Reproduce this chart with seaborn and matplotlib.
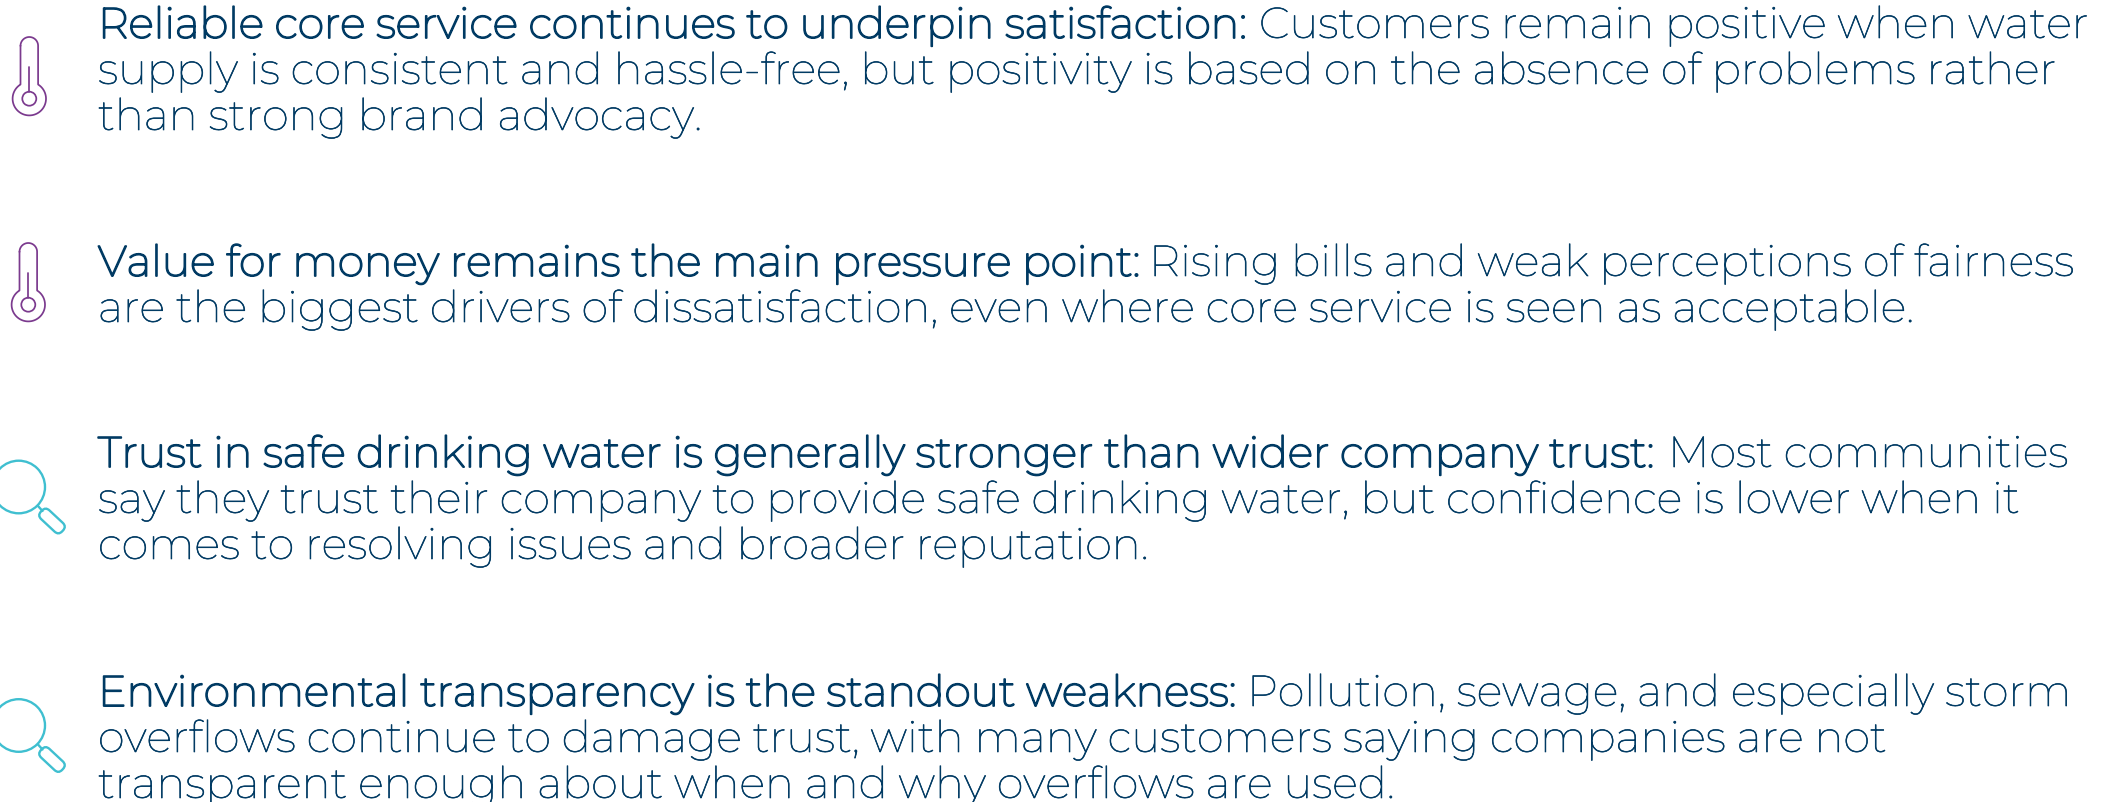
import numpy as np
import matplotlib
matplotlib.use('Agg')
import matplotlib.pyplot as plt
from matplotlib import patheffects as pe
from matplotlib.patches import Circle, FancyBboxPatch
from matplotlib.transforms import Affine2D
import seaborn as sns

# --- content -------------------------------------------------------------
block_leads = [
    "Reliable core service continues to underpin satisfaction:",
    "Value for money remains the main pressure point:",
    "Trust in safe drinking water is generally stronger than wider company trust:",
    "Environmental transparency is the standout weakness:",
]
block_first_lines = [
    "Customers remain positive when water",
    "Rising bills and weak perceptions of fairness",
    "Most communities",
    "Pollution, sewage, and especially storm",
]
block_more_lines = [
    ["supply is consistent and hassle-free, but positivity is based on the absence of problems rather",
     "than strong brand advocacy."],
    ["are the biggest drivers of dissatisfaction, even where core service is seen as acceptable."],
    ["say they trust their company to provide safe drinking water, but confidence is lower when it",
     "comes to resolving issues and broader reputation."],
    ["overflows continue to damage trust, with many customers saying companies are not",
     "transparent enough about when and why overflows are used."],
]
block_icons = ["thermometer", "thermometer", "magnifier", "magnifier"]

# --- layout (pixels of the 2108x802 canvas) -------------------------------
W, H = 2108, 802
LEFT = 98
first_baselines = [38, 276, 467, 706]
line_pitch = 46
body_starts = [1259, 1149, 1668, 1247]
icon_dx = [0, -1, 0, 0]
icon_dy = [0, 206, 0, 238.5]
NAVY = '#003a63'
PURPLE = '#7b3a8e'
TEAL = '#3fbfd0'
FONT = 'Montserrat'
LEAD_SIZE = 30.75
BODY_SIZE = 31.24

sns.set_theme(style='white')
fig = plt.figure(figsize=(W / 100, H / 100), dpi=100, facecolor='white')
ax = fig.add_axes([0, 0, 1, 1])
ax.set_xlim(0, W)
ax.set_ylim(H, 0)
ax.axis('off')

lead_fx = [pe.Stroke(linewidth=1.3, foreground=NAVY), pe.Normal()]
body_fx = [pe.Stroke(linewidth=0.45, foreground=NAVY), pe.Normal()]


def put(x, y, s, size, fx):
    ax.text(x, y, s, family=FONT, fontsize=size, color=NAVY, ha='left',
            va='baseline', path_effects=fx)


def thermometer(dx, dy):
    cx, cy = 29.3 + dx, 98.7 + dy
    R, r, hw = 16.7, 7.0, 8.8
    top = 37 + dy + hw
    a0 = np.arcsin(hw / R)
    u = np.linspace(np.pi, 0, 30)
    cap_x, cap_y = cx + hw * np.cos(u), top - hw * np.sin(u)
    t = np.linspace(np.pi / 2 - a0, -1.5 * np.pi + a0, 90)
    bx, by = cx + R * np.cos(t), cy - R * np.sin(t)
    ax.plot(np.r_[cap_x, bx, cap_x[0]], np.r_[cap_y, by, cap_y[0]],
            color=PURPLE, lw=1.25, solid_capstyle='round')
    ax.add_patch(Circle((cx, cy), r, fill=False, ec=PURPLE, lw=1.25))
    ax.plot([cx, cx], [66.7 + dy, cy - r], color=PURPLE, lw=1.25)


def magnifier(dx, dy):
    cx, cy = 18.7 + dx, 487 + dy
    ax.add_patch(Circle((cx, cy), 26.3, fill=False, ec=TEAL, lw=1.7))
    ax.plot([38, 42.5], [506 + dy, 511 + dy], color=TEAL, lw=1.7)
    px, py, L, w = 52.0, 521.0 + dy, 29.0, 12.0
    tr = Affine2D().rotate_deg_around(px, py, 43) + ax.transData
    ax.add_patch(FancyBboxPatch((px - L / 2, py - w / 2), L, w,
                                boxstyle=f'round,pad=0,rounding_size={w * 0.45}',
                                fill=False, ec=TEAL, lw=1.7, transform=tr))


for i, lead in enumerate(block_leads):
    y = first_baselines[i]
    put(LEFT, y, lead, LEAD_SIZE, lead_fx)
    put(body_starts[i], y, block_first_lines[i], BODY_SIZE, body_fx)
    for k, line in enumerate(block_more_lines[i], start=1):
        put(LEFT, y + k * line_pitch, line, BODY_SIZE, body_fx)
    if block_icons[i] == 'thermometer':
        thermometer(icon_dx[i], icon_dy[i])
    else:
        magnifier(icon_dx[i], icon_dy[i])

fig.savefig('out.png', dpi=100)
